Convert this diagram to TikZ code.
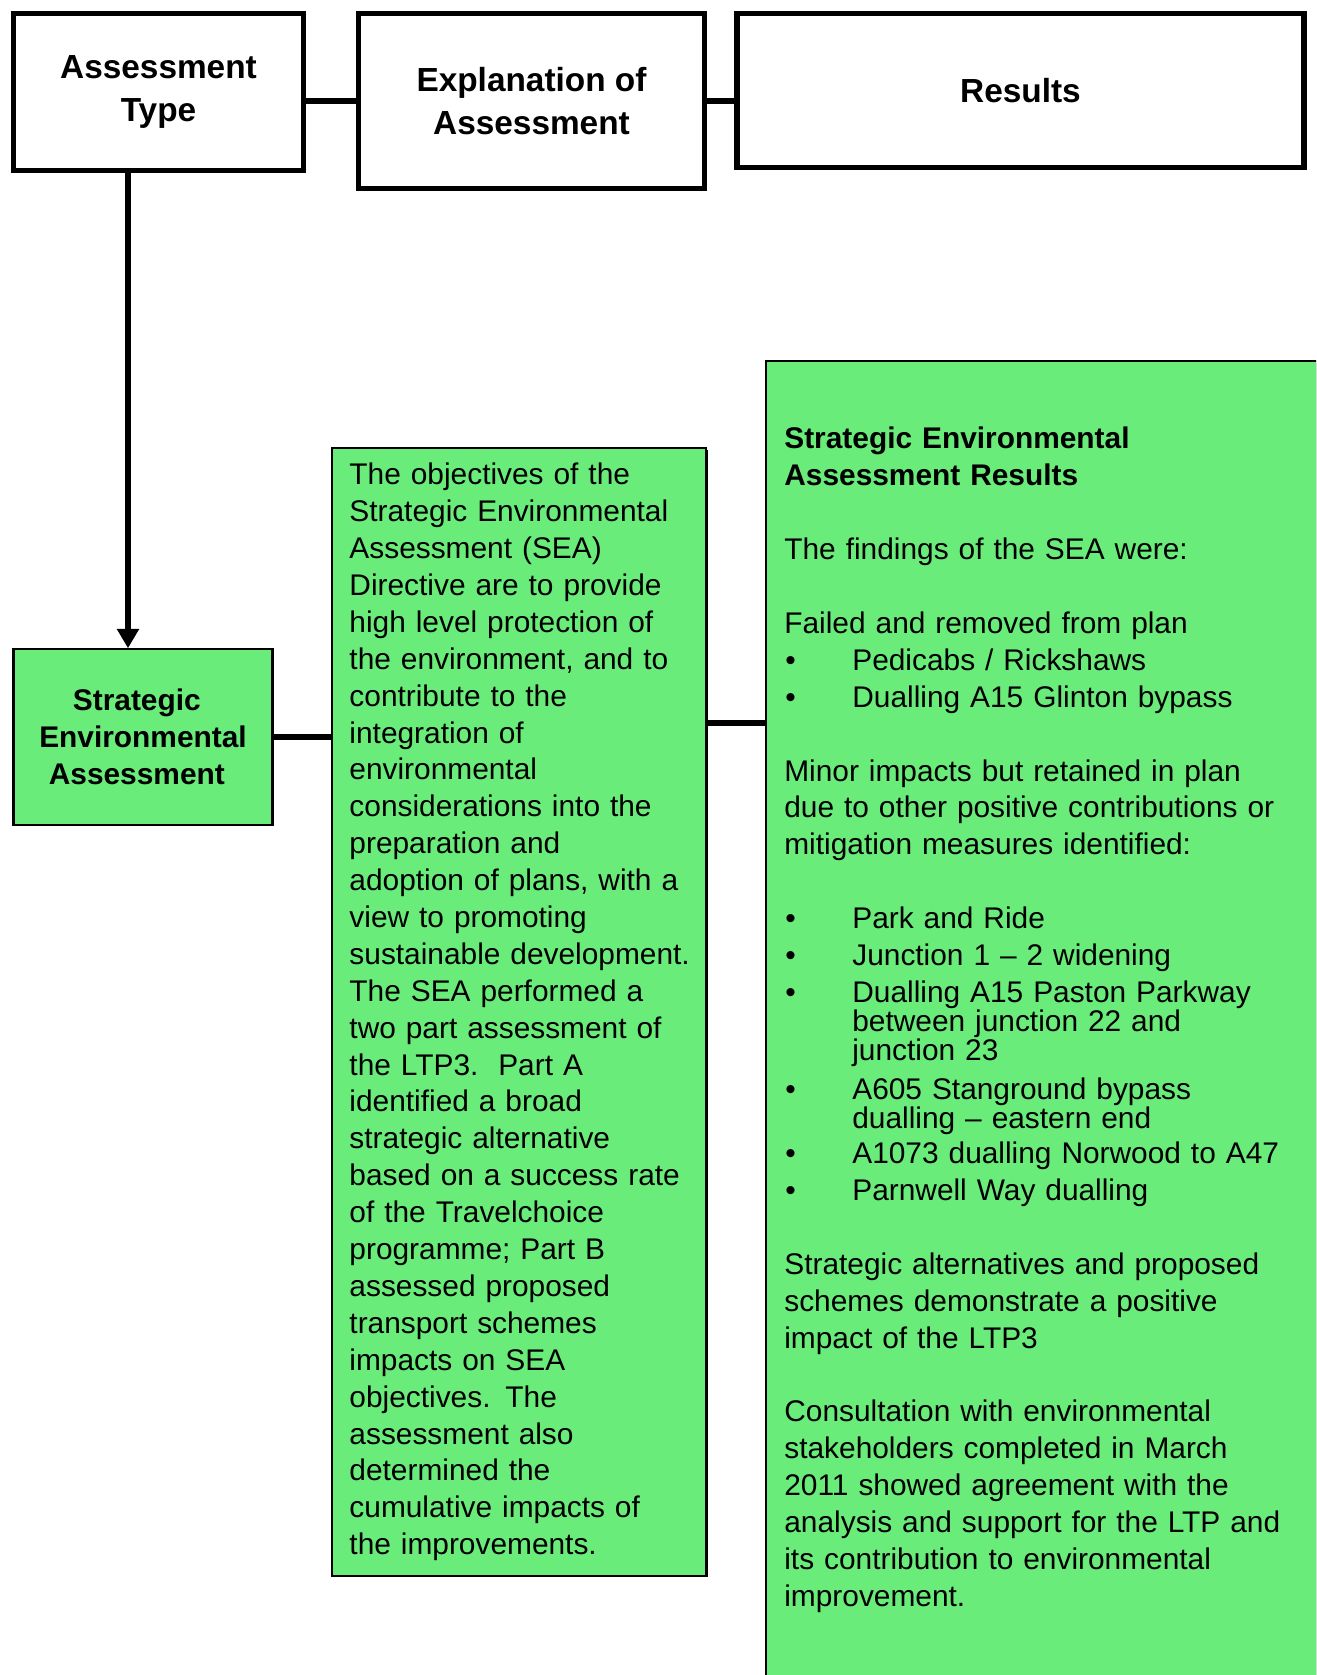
\documentclass[tikz,border=0pt]{standalone}
\usepackage{fontspec}
\setmainfont{Liberation Sans}
\usetikzlibrary{arrows.meta,shadows}
\definecolor{seagreen}{RGB}{106,236,122}
\tikzset{
    head box/.style = {draw, line width=3pt, align=center, inner sep=0pt, font=\fontsize{19}{24}\selectfont\bfseries},
    green box/.style = {draw, line width=1.2pt, fill=seagreen, inner sep=0pt, drop shadow={shadow xshift=1pt, shadow yshift=-1pt, fill=black, opacity=1}},
    body text/.style = {align=left, inner sep=0pt, font=\fontsize{17}{21}\selectfont},
    link/.style = {line width=3pt}
}
\newcommand{\bul}[1]{\hspace*{0.6pt}\makebox[38.1pt][l]{\textbullet}#1}
\newcommand{\cont}[1]{\hspace*{38.7pt}#1}

\begin{document}
\begin{tikzpicture}[x=0.02cm, y=-0.02cm]
        \useasboundingbox (0,0) rectangle (1316,1675);
        \clip (0,0) rectangle (1316,1675);
        \coordinate (drop) at (128,0);
        \coordinate (tie) at (0,723);

        \node[head box, minimum width=165pt, minimum height=89.6pt] (type) at (158.5,92) {Assessment\\Type};
        \node[head box, minimum width=196.7pt, minimum height=99.8pt] (explain) at (531.5,101) {Explanation of\\Assessment};
        \node[head box, minimum width=322.6pt, minimum height=87.9pt] (results) at (1020.5,90.5) {Results};

        \node[green box, minimum width=147.4pt, minimum height=99.8pt, align=center, font=\fontsize{17}{21.2}\selectfont\bfseries] (sea) at (143,737) {Strategic\hspace*{7pt}\\Environmental\hspace*{7pt}\\Assessment\hspace*{7pt}};
        \node[green box, body text, minimum width=213.2pt, minimum height=641.7pt, text width=193pt, inner xsep=10pt] (seaexplain) at (519,1012) {The objectives of the\\
            Strategic Environmental\\
            Assessment (SEA)\\
            Directive are to provide\\
            high level protection of\\
            the environment, and to\\
            contribute to the\\
            integration of\\
            environmental\\
            considerations into the\\
            preparation and\\
            adoption of plans, with a\\
            view to promoting\\
            \mbox{sustainable development.}\\
            The SEA performed a\\
            two part assessment of\\
            the LTP3.\ \ Part A\\
            identified a broad\\
            strategic alternative\\
            based on a success rate\\
            of the Travelchoice\\
            programme; Part B\\
            assessed proposed\\
            transport schemes\\
            impacts on SEA\\
            objectives. The\\
            assessment also\\
            determined the\\
            cumulative impacts of\\
            the improvements.};
        \node[green box, minimum width=400pt, minimum height=760pt, anchor=north west] (seaout) at (765,360) {};
        \node[body text, text width=300pt, anchor=north west] (seaouttext) at (784,427) {{\bfseries Strategic Environmental\\
            Assessment Results}\\[21pt]
            The findings of the SEA were:\\[21pt]
            Failed and removed from plan\\
            \bul{Pedicabs / Rickshaws}\\
            \bul{Dualling A15 Glinton bypass}\\[21pt]
            Minor impacts but retained in plan\\
            due to other positive contributions or\\
            mitigation measures identified:\\[21pt]
            \bul{Park and Ride}\\
            \bul{Junction 1 – 2 widening}\\
            \bul{Dualling A15 Paston Parkway}\\[-4.4pt]
            \cont{between junction 22 and}\\[-4.4pt]
            \cont{junction 23}\\[1pt]
            \bul{A605 Stanground bypass}\\[-4.4pt]
            \cont{dualling – eastern end}\\[-1pt]
            \bul{A1073 dualling Norwood to A47}\\
            \bul{Parnwell Way dualling}\\[21pt]
            Strategic alternatives and proposed\\
            schemes demonstrate a positive\\
            impact of the LTP3\\[21pt]
            Consultation with environmental\\
            stakeholders completed in March\\
            2011 showed agreement with the\\
            analysis and support for the LTP and\\
            its contribution to environmental\\
            improvement.};

        \draw[link] (type.east |- explain.west) -- (explain.west);
        \draw[link] (explain.east) -- (results.west |- explain.east);
        \draw[line width=3pt, -{Triangle[length=11pt, width=12pt]}] (type.south -| drop) -- (sea.north -| drop);
        \draw[link] (sea.east) -- (seaexplain.west |- sea.east);
        \draw[link] (seaexplain.east |- tie) -- (seaout.west |- tie);
    \end{tikzpicture}
\end{document}
